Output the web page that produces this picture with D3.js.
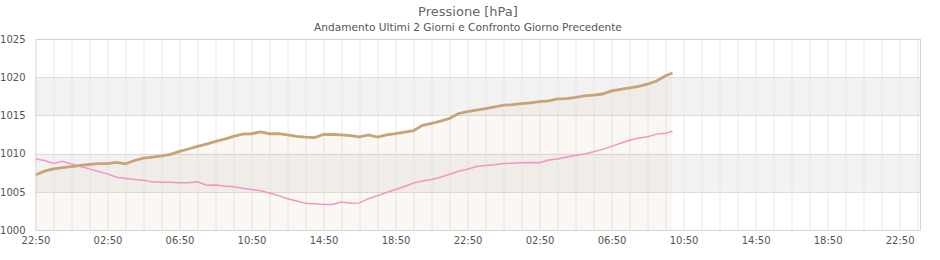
<!DOCTYPE html>
<html>
<head>
<meta charset="utf-8">
<script src="https://cdn.jsdelivr.net/npm/d3@7"></script>
<style>
    body { margin: 0; background: #fff; }
    svg { display: block; font-family: "DejaVu Sans", sans-serif; }
</style>
</head>
<body>
<script>
// Pressione - andamento ultimi 2 giorni e confronto giorno precedente
// one sample every 30 minutes, starting at 22:50, last sample at 10:13

var stepMinutes = [];          // minutes from 22:50 of the first day
for (var i = 0; i <= 70; i++) { stepMinutes.push(i * 30); }
stepMinutes.push(2123);

var pressCurrent = [
    1007.2, 1007.7, 1008.0, 1008.15, 1008.3, 1008.45, 1008.6, 1008.7,
    1008.7, 1008.85, 1008.65, 1009.1, 1009.4, 1009.55, 1009.7, 1009.9,
    1010.3, 1010.6, 1010.95, 1011.25, 1011.6, 1011.9, 1012.25, 1012.55,
    1012.6, 1012.85, 1012.6, 1012.6, 1012.45, 1012.25, 1012.15, 1012.1,
    1012.5, 1012.5, 1012.45, 1012.35, 1012.2, 1012.45, 1012.15, 1012.45,
    1012.6, 1012.8, 1013.0, 1013.7, 1013.95, 1014.25, 1014.6, 1015.25,
    1015.5, 1015.7, 1015.9, 1016.1, 1016.35, 1016.4, 1016.55, 1016.65,
    1016.8, 1016.9, 1017.15, 1017.2, 1017.35, 1017.55, 1017.65, 1017.8,
    1018.2, 1018.4, 1018.6, 1018.8, 1019.1, 1019.5, 1020.2, 1020.55
];

var pressPrevious = [
    1009.3, 1009.1, 1008.7, 1009.0, 1008.65, 1008.3, 1008.0, 1007.65,
    1007.35, 1006.9, 1006.75, 1006.6, 1006.5, 1006.3, 1006.25, 1006.25,
    1006.2, 1006.2, 1006.3, 1005.85, 1005.9, 1005.75, 1005.65, 1005.45,
    1005.3, 1005.15, 1004.85, 1004.5, 1004.1, 1003.8, 1003.5, 1003.45,
    1003.35, 1003.35, 1003.65, 1003.5, 1003.55, 1004.1, 1004.5, 1004.9,
    1005.3, 1005.7, 1006.15, 1006.4, 1006.6, 1006.9, 1007.3, 1007.7,
    1007.95, 1008.3, 1008.45, 1008.55, 1008.7, 1008.75, 1008.8, 1008.85,
    1008.8, 1009.15, 1009.3, 1009.55, 1009.75, 1009.95, 1010.25, 1010.55,
    1010.95, 1011.35, 1011.75, 1012.05, 1012.2, 1012.55, 1012.65, 1012.95
];

var yTicks = [1000, 1005, 1010, 1015, 1020, 1025];
var yBands = [[1005, 1010], [1015, 1020]];
var titleText = "Pressione [hPa]";
var subtitleText = "Andamento Ultimi 2 Giorni e Confronto Giorno Precedente";

var W = 940, H = 260;
var margin = {top: 39, right: 20, bottom: 30, left: 35.5},
    width = W - margin.left - margin.right,
    height = H - margin.top - margin.bottom;

var start = new Date(2024, 0, 1, 22, 50);
var end = d3.timeMinute.offset(start, 49 * 60 + 8);
function toDate(m) { return d3.timeMinute.offset(start, m); }

var x = d3.scaleTime().domain([start, end]).range([0, width]);
var y = d3.scaleLinear().domain([1000, 1025]).range([height, 0]);

var svg = d3.select("body").append("svg")
    .attr("width", W)
    .attr("height", H);

svg.append("text")
    .attr("x", 468)
    .attr("y", 16)
    .attr("text-anchor", "middle")
    .attr("font-size", "13px")
    .attr("fill", "#666")
    .text(titleText);

svg.append("text")
    .attr("x", 468)
    .attr("y", 31)
    .attr("text-anchor", "middle")
    .attr("font-size", "10.6px")
    .attr("fill", "#555")
    .text(subtitleText);

var g = svg.append("g")
    .attr("transform", "translate(" + margin.left + "," + margin.top + ")");

// alternate grey bands
g.selectAll("rect.band")
    .data(yBands)
    .enter()
    .append("rect")
    .attr("class", "band")
    .attr("x", 0)
    .attr("width", width)
    .attr("y", function(d) { return y(d[1]); })
    .attr("height", function(d) { return y(d[0]) - y(d[1]); })
    .attr("fill", "#f3f2f2");

// hourly vertical grid
var hours = d3.range(1, 50).map(function(h) { return toDate(h * 60); });
g.selectAll("line.vgrid")
    .data(hours)
    .enter()
    .append("line")
    .attr("x1", function(d) { return Math.round(x(d)) + 0.5; })
    .attr("x2", function(d) { return Math.round(x(d)) + 0.5; })
    .attr("y1", 0)
    .attr("y2", height)
    .attr("stroke", "#e6e6f6")
    .attr("stroke-width", 1);

// horizontal grid
g.selectAll("line.hgrid")
    .data(yTicks)
    .enter()
    .append("line")
    .attr("x1", 0)
    .attr("x2", width)
    .attr("y1", function(d) { return Math.round(y(d)) + 0.5; })
    .attr("y2", function(d) { return Math.round(y(d)) + 0.5; })
    .attr("stroke", "#dddddd");

var ptsCur = stepMinutes.map(function(m, i) {
    return {t: toDate(m), v: pressCurrent[i]};
});
var ptsPrev = stepMinutes.map(function(m, i) {
    return {t: toDate(m), v: pressPrevious[i]};
});

// light fill below the current series
var area = d3.area()
    .x(function(d) { return x(d.t); })
    .y0(height)
    .y1(function(d) { return y(d.v); });

g.append("path")
    .datum(ptsCur)
    .attr("d", area)
    .attr("fill", "#c8a070")
    .attr("fill-opacity", 0.08);

var line = d3.line()
    .x(function(d) { return x(d.t); })
    .y(function(d) { return y(d.v); });

g.append("path")
    .datum(ptsPrev)
    .attr("d", line)
    .attr("fill", "none")
    .attr("stroke", "#f294c6")
    .attr("stroke-width", 1.5);

g.append("path")
    .datum(ptsCur)
    .attr("d", line)
    .attr("fill", "none")
    .attr("stroke", "#c9a375")
    .attr("stroke-width", 2.8);

// frame
g.append("rect")
    .attr("x", 0.5)
    .attr("y", 0.5)
    .attr("width", width)
    .attr("height", height)
    .attr("fill", "none")
    .attr("stroke", "#d4d4d4");

// axes
var xTicks = d3.range(0, 13).map(function(k) { return toDate(k * 240); });
var xAxis = d3.axisBottom(x)
    .tickValues(xTicks)
    .tickFormat(d3.timeFormat("%H:%M"))
    .tickSize(0)
    .tickPadding(7);
var yAxis = d3.axisLeft(y)
    .tickValues(yTicks)
    .tickFormat(d3.format("d"))
    .tickSize(0)
    .tickPadding(10);

var gx = g.append("g")
    .attr("transform", "translate(0," + height + ")")
    .call(xAxis);
var gy = g.append("g").call(yAxis);

[gx, gy].forEach(function(ax) {
    ax.select(".domain").remove();
    ax.selectAll("text")
        .attr("font-size", "10px")
        .attr("font-family", "DejaVu Sans, sans-serif")
        .attr("fill", "#555");
});
</script>
</body>
</html>
